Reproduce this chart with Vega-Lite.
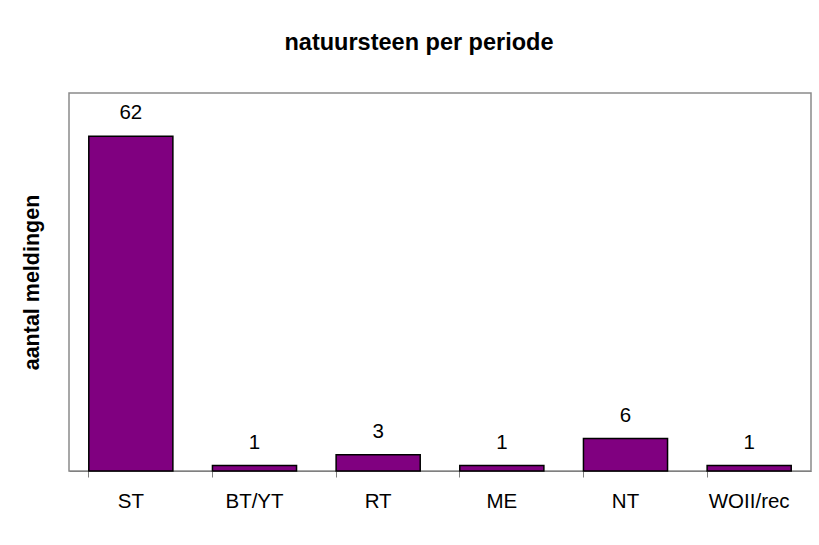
{
  "$schema": "https://vega.github.io/schema/vega-lite/v6.json",
  "width": 742,
  "height": 378,
  "autosize": {"type": "none"},
  "padding": {"left": 69, "top": 93, "right": 8, "bottom": 74},
  "background": "white",
  "title": {
    "text": "natuursteen per periode",
    "font": "Liberation Sans",
    "fontSize": 23.5,
    "fontWeight": "bold",
    "color": "black",
    "anchor": "middle",
    "dx": -21,
    "offset": 39
  },
  "config": {
    "view": {"stroke": "#8a8a8a", "strokeWidth": 1.5},
    "font": "Liberation Sans"
  },
  "data": {
    "values": [
      {"periode": "ST", "aantal": 62},
      {"periode": "BT/YT", "aantal": 1},
      {"periode": "RT", "aantal": 3},
      {"periode": "ME", "aantal": 1},
      {"periode": "NT", "aantal": 6},
      {"periode": "WOII/rec", "aantal": 1}
    ]
  },
  "encoding": {
    "x": {
      "field": "periode",
      "type": "nominal",
      "sort": null,
      "scale": {"paddingInner": 0.32, "paddingOuter": 0.16},
      "axis": {
        "title": null,
        "labelAngle": 0,
        "labelFont": "Liberation Sans",
        "labelFontSize": 20.5,
        "labelColor": "black",
        "labelPadding": 14,
        "tickSize": 6,
        "tickColor": "#808080",
        "domainColor": "#808080",
        "bandPosition": 0
      }
    },
    "y": {
      "field": "aantal",
      "type": "quantitative",
      "scale": {"domain": [0, 70], "nice": false},
      "axis": {
        "title": "aantal meldingen",
        "titleFont": "Liberation Sans",
        "titleFontSize": 21.5,
        "titleFontWeight": "bold",
        "titleColor": "black",
        "titlePadding": 26,
        "labels": false,
        "ticks": false,
        "domain": false,
        "grid": false
      }
    }
  },
  "layer": [
    {
      "mark": {"type": "bar", "fill": "#800080", "stroke": "black", "strokeWidth": 1.5}
    },
    {
      "mark": {"type": "text", "font": "Liberation Sans", "fontSize": 20.5, "color": "black", "baseline": "alphabetic", "dy": -17},
      "encoding": {"text": {"field": "aantal", "type": "quantitative"}}
    }
  ]
}
